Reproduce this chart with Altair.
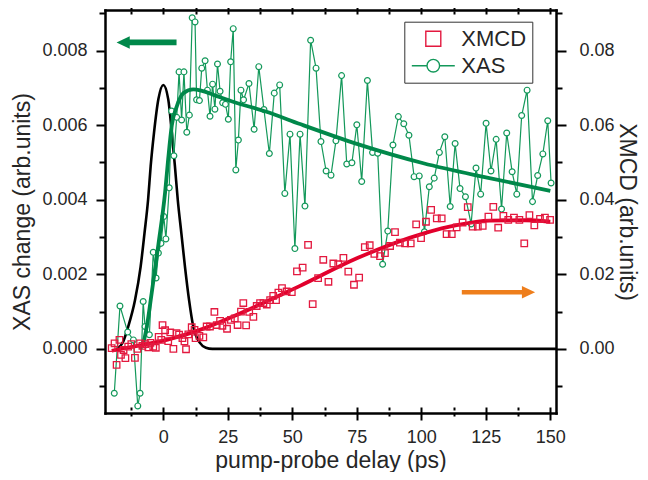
import altair as alt
import pandas as pd

# ---------------- data ----------------
# XAS change (left axis), pump-probe delay in ps
xas_t = [-19.0, -16.8, -13.8, -11.6, -9.9, -9.0, -7.8, -7.1, -5.4, -3.9,
         -2.8, -1.9, -0.9, 0.2, 1.0, 2.3, 3.2, 4.1, 5.2, 6.1,
         7.1, 8.0, 9.1, 10.1, 11.2, 12.3, 12.9, 14.0, 14.9, 16.2,
         17.1, 18.1, 19.1, 20.0, 21.0, 22.0, 23.0, 24.1, 25.2, 26.1,
         27.1, 28.1, 29.1, 30.1, 31.1, 33.2, 35.2, 37.0, 39.0, 41.1,
         43.0, 45.1, 47.1, 49.1, 51.0, 53.0, 54.9, 57.1, 59.2, 61.1,
         63.1, 65.0, 66.9, 69.1, 71.1, 73.1, 75.0, 76.9, 79.1, 81.1,
         83.1, 85.0, 87.0, 89.0, 91.1, 93.2, 95.2, 97.2, 99.2, 101.2,
         103.1, 105.0, 107.0, 109.1, 111.2, 113.1, 115.0, 117.1, 119.3, 121.2,
         123.0, 125.1, 127.0, 129.0, 131.1, 133.1, 135.2, 137.0, 138.9, 141.0,
         143.1, 145.1, 147.1, 149.0, 150.3]
xas_v = [-0.00119, 0.00115, 0.00045, 0.00024, -0.00153, -0.00119, 0.00127, 0.00060, 0.00038, 0.00259,
         0.00190, 0.00257, 0.00283, 0.00355, 0.00295, 0.00432, 0.00638, 0.00518, 0.00621, 0.00743,
         0.00614, 0.00743, 0.00581, 0.00627, 0.00888, 0.00877, 0.00668, 0.00666, 0.00753, 0.00773,
         0.00694, 0.00624, 0.00710, 0.00643, 0.00764, 0.00691, 0.00660, 0.00656, 0.00616, 0.00770,
         0.00859, 0.00480, 0.00560, 0.00694, 0.00668, 0.00712, 0.00589, 0.00757, 0.00642, 0.00524,
         0.00686, 0.00708, 0.00417, 0.00576, 0.00269, 0.00576, 0.00383, 0.00828, 0.00753, 0.00556,
         0.00477, 0.00466, 0.00558, 0.00733, 0.00496, 0.00499, 0.00601, 0.00449, 0.00720, 0.00527,
         0.00525, 0.00227, 0.00316, 0.00547, 0.00623, 0.00604, 0.00573, 0.00462, 0.00464, 0.00314,
         0.00435, 0.00458, 0.00527, 0.00569, 0.00382, 0.00551, 0.00430, 0.00408, 0.00335, 0.00485,
         0.00415, 0.00605, 0.00477, 0.00562, 0.00375, 0.00579, 0.00475, 0.00415, 0.00626, 0.00694,
         0.00395, 0.00465, 0.00523, 0.00612, 0.00445]

# XMCD (right axis)
xmcd_t = [-20.0, -18.9, -18.1, -17.0, -16.4, -15.4, -14.7, -13.6, -12.4, -11.0,
          -10.0, -9.0, -8.1, -7.0, -5.8, -5.0, -3.9, -2.9, -1.8, -0.8,
          -0.3, 0.7, 1.9, 2.7, 3.9, 5.1, 6.1, 7.4, 8.2, 8.8,
          9.7, 11.0, 12.1, 12.5, 14.0, 15.5, 16.8, 18.1, 19.8, 20.7,
          22.0, 22.9, 24.7, 26.2, 27.7, 28.8, 30.1, 31.0, 32.1, 33.3,
          34.9, 36.2, 37.5, 38.8, 40.1, 41.4, 42.6, 43.7, 44.6, 46.0,
          47.8, 49.8, 51.8, 54.0, 56.1, 57.9, 60.0, 62.0, 64.0, 65.9,
          67.8, 69.8, 71.7, 73.9, 75.9, 78.1, 80.0, 81.8, 84.0, 85.9,
          87.9, 89.8, 91.7, 93.7, 95.9, 98.0, 99.9, 101.8, 103.8, 106.0,
          107.9, 109.8, 111.8, 113.7, 116.0, 118.0, 119.9, 121.9, 123.8, 126.0,
          127.9, 129.8, 131.8, 133.7, 135.9, 138.0, 139.9, 141.9, 143.8, 146.0,
          147.9, 149.9]
xmcd_v = [0.0002, 0.0015, -0.0043, 0.0024, -0.0016, -0.0003, -0.0025, 0.0006, 0.0013, -0.0024,
          0.0000, 0.0015, 0.0008, 0.0013, 0.0004, 0.0016, 0.0006, 0.0003, 0.0032, 0.0024,
          0.0064, 0.0050, 0.0021, 0.0044, 0.0000, 0.0042, 0.0038, 0.0029, 0.0020, -0.0001,
          0.0039, 0.0058, 0.0051, 0.0029, 0.0035, 0.0031, 0.0060, 0.0060, 0.0099, 0.0064,
          0.0075, 0.0062, 0.0054, 0.0078, 0.0082, 0.0064, 0.0100, 0.0123, 0.0063, 0.0099,
          0.0086, 0.0115, 0.0123, 0.0123, 0.0119, 0.0131, 0.0142, 0.0131, 0.0151, 0.0163,
          0.0154, 0.0152, 0.0208, 0.0218, 0.0279, 0.0120, 0.0190, 0.0239, 0.0180, 0.0229,
          0.0227, 0.0244, 0.0207, 0.0172, 0.0191, 0.0273, 0.0278, 0.0255, 0.0249, 0.0257,
          0.0276, 0.0313, 0.0285, 0.0283, 0.0283, 0.0334, 0.0297, 0.0341, 0.0373, 0.0350,
          0.0350, 0.0308, 0.0308, 0.0326, 0.0339, 0.0380, 0.0328, 0.0328, 0.0330, 0.0355,
          0.0381, 0.0325, 0.0357, 0.0346, 0.0352, 0.0346, 0.0283, 0.0359, 0.0331, 0.0349,
          0.0352, 0.0346]

# fitted curves
xas_fit_t = [-9.0, -7.8, -6.4, -4.5, -1.9, 0.7, 1.9, 3.3, 5.2, 7.8,
             11.6, 15.0, 20.0, 27.0, 40.0, 53.0, 75.0, 100.8, 125.0, 150.0]
xas_fit_v = [0.0, 0.00015, 0.0006, 0.0015, 0.0028, 0.0042, 0.0051, 0.0060, 0.0065, 0.00686,
             0.00696, 0.00692, 0.0068, 0.00663, 0.00636, 0.00603, 0.0055, 0.00498, 0.0046, 0.00424]
xmcd_fit_t = [-20.0, -11.6, 1.3, 14.2, 27.0, 40.0, 49.0, 53.0, 75.0, 101.0, 113.7, 126.6, 140.0, 150.0]
xmcd_fit_v = [-0.0005, 0.0006, 0.0024, 0.0051, 0.0087, 0.0127, 0.0156, 0.0169, 0.0243, 0.0310,
              0.0332, 0.0344, 0.0345, 0.0341]

# pump pulse (black, left axis)
pulse_t = [-18.0, -15.5, -13.6, -11.0, -8.8, -7.3, -5.9, -4.9, -3.6, -1.9, 0.0,
           1.9, 3.3, 4.5, 5.6, 7.0, 8.4, 10.0, 11.6, 14.2, 16.5, 19.0, 25.0, 152.2]
pulse_v = [0.0, 0.0002, 0.0006, 0.0013, 0.0022, 0.0031, 0.0040, 0.0049, 0.0058, 0.0067, 0.00708,
           0.0067, 0.0058, 0.0049, 0.0040, 0.0031, 0.0022, 0.0013, 0.0006, 0.00016, 0.00003, 0.0, 0.0, 0.0]

legend_series = ["XMCD", "XAS"]

# annotation arrows (data coordinates)
arrow_left_t, arrow_left_v = [-6.5], [0.00822]
arrow_right_t, arrow_right_v = [129.9], [0.0152]

# ---------------- styling ----------------
FONT = "Liberation Sans"
TXT = "#262626"
GREEN = "#13985A"
GREEN_FIT = "#00884A"
RED = "#E3193F"
RED_FIT = "#E2002C"
ORANGE = "#EE7E1C"

XDOM = [-22.6, 152.2]
LDOM = [-0.00172, 0.00909]
RDOM = [-0.0172, 0.0909]
W, H = 451, 403

xticks = [-12.5 + 12.5 * i for i in range(14)]
lticks = [round(0.001 * i, 3) for i in range(-1, 10)]
rticks = [round(0.01 * i, 2) for i in range(-1, 10)]

xscale = alt.Scale(domain=XDOM, nice=False, zero=False)
lscale = alt.Scale(domain=LDOM, nice=False, zero=False)
rscale = alt.Scale(domain=RDOM, nice=False, zero=False)

common = dict(
    grid=False, domainColor="black", domainWidth=2.5, domainCap="square",
    tickColor="black", tickWidth=2, labelFont=FONT, labelFontSize=18,
    labelColor=TXT, titleFont=FONT, titleFontSize=23, titleColor=TXT,
    titleFontWeight="normal", labelFlush=False, labelOverlap=False,
)

xminor = "datum.value % 25 != 0"
ax_bottom = alt.Axis(
    orient="bottom", values=xticks, format="d",
    labelExpr="datum.value % 25 == 0 ? datum.label : ''",
    tickSize={"condition": {"test": xminor, "value": 3}, "value": 7},
    labelPadding=8, title="pump-probe delay (ps)", titleY=54,
    titleBaseline="alphabetic", **common)
ax_bottom_in = alt.Axis(
    orient="bottom", values=xticks, labels=False, domain=False, offset=-6,
    tickSize={"condition": {"test": xminor, "value": 3}, "value": 6},
    title=None, grid=False, tickColor="black", tickWidth=2)
ax_top = alt.Axis(
    orient="top", values=xticks, labels=False,
    tickSize={"condition": {"test": xminor, "value": 3}, "value": 6},
    title=None, **common)
ax_top_in = alt.Axis(
    orient="top", values=xticks, labels=False, domain=False, offset=-4,
    tickSize={"condition": {"test": xminor, "value": 3}, "value": 4},
    title=None, grid=False, tickColor="black", tickWidth=2)

ax_left = alt.Axis(
    orient="left", values=lticks,
    labelExpr="round(datum.value*1000) % 2 == 0 ? format(datum.value, '.3f') : ''",
    tickSize={"condition": {"test": "round(datum.value*1000) % 2 != 0", "value": 6}, "value": 9},
    labelPadding=9, title="XAS change (arb.units)", titleX=-82.5, titleY=H / 2,
    titleBaseline="middle", **common)
ax_right = alt.Axis(
    orient="right", values=rticks,
    labelExpr="round(datum.value*100) % 2 == 0 ? format(datum.value, '.2f') : ''",
    tickSize={"condition": {"test": "round(datum.value*100) % 2 != 0", "value": 6}, "value": 10},
    labelPadding=13, title="XMCD (arb.units)", titleX=70, titleY=H / 2,
    titleBaseline="middle", **common)

xas_df = pd.DataFrame({"t": xas_t, "v": xas_v})
xmcd_df = pd.DataFrame({"t": xmcd_t, "v": xmcd_v})
xas_fit_df = pd.DataFrame({"t": xas_fit_t, "v": xas_fit_v})
xmcd_fit_df = pd.DataFrame({"t": xmcd_fit_t, "v": xmcd_fit_v})
pulse_df = pd.DataFrame({"t": pulse_t, "v": pulse_v})
leg_df = pd.DataFrame({"series": legend_series, "t": [-1000.0, -1000.0], "v": [0.0, 0.0]})
arrL_df = pd.DataFrame({"t": arrow_left_t, "v": arrow_left_v})
arrR_df = pd.DataFrame({"t": arrow_right_t, "v": arrow_right_v})


def xl(axis):
    return alt.X("t:Q", scale=xscale, axis=axis)


def yl(axis):
    return alt.Y("v:Q", scale=lscale, axis=axis)


def yr(axis):
    return alt.Y("v:Q", scale=rscale, axis=axis)


# group C: pump pulse (with inward bottom ticks)
pulse = alt.Chart(pulse_df).mark_line(
    color="black", strokeWidth=2.6, interpolate="monotone"
).encode(x=xl(ax_bottom_in), y=yl(None))

# group A: XAS (left axis)
xas_line = alt.Chart(xas_df).mark_line(color=GREEN, strokeWidth=1.2).encode(
    x=xl(ax_bottom), y=yl(ax_left))
xas_pts = alt.Chart(xas_df).mark_point(
    shape="circle", filled=True, fill="white", stroke=GREEN, strokeWidth=1.2,
    size=34, opacity=1).encode(x=xl(ax_bottom), y=yl(ax_left))
xas_fit = alt.Chart(xas_fit_df).mark_line(
    color=GREEN_FIT, strokeWidth=3.8, interpolate="monotone").encode(
    x=xl(ax_bottom), y=yl(ax_left))
ARROW_L = "M-1,0L-0.56,-0.21L-0.56,-0.095L1,-0.095L1,0.095L-0.56,0.095L-0.56,0.21Z"
arrow_l = alt.Chart(arrL_df).mark_point(
    shape=ARROW_L, filled=True, color=GREEN_FIT, size=3600, opacity=1, strokeWidth=0
).encode(x=xl(ax_bottom), y=yl(ax_left))

SQ_PATH = "M-1.07,-1.07H1.07V1.07H-1.07Z"
XAS_PATH = "M-3.07,0H-0.9A0.9,0.9,0,1,1,0.9,0A0.9,0.9,0,1,1,-0.9,0M0.9,0H3.07"
leg = alt.Legend(
    title=None, orient="none", legendX=299.3, legendY=11.7, padding=6,
    strokeColor="#333333", fillColor="white", labelFont=FONT, labelFontSize=22,
    labelColor=TXT, symbolSize=196, symbolStrokeWidth=1.4, symbolOffset=12,
    labelOffset=17, rowPadding=5)
legend_layer = alt.Chart(leg_df).mark_point(clip=True, filled=False, opacity=1).encode(
    x=xl(ax_bottom), y=yl(ax_left),
    color=alt.Color("series:N", scale=alt.Scale(domain=legend_series, range=[RED, GREEN]), legend=leg),
    shape=alt.Shape("series:N", scale=alt.Scale(domain=legend_series, range=[SQ_PATH, XAS_PATH]), legend=leg),
)

# group B: XMCD (right axis)
xmcd_fit = alt.Chart(xmcd_fit_df).mark_line(
    color=RED_FIT, strokeWidth=3.8, interpolate="monotone").encode(
    x=xl(ax_top), y=yr(ax_right))
xmcd_pts = alt.Chart(xmcd_df).mark_point(
    shape="square", filled=False, color=RED, strokeWidth=1.3, size=42, opacity=1
).encode(x=xl(ax_top), y=yr(ax_right))

# group D: orange arrow (with inward top ticks)
ARROW_R = "M1,0L0.64,-0.17L0.64,-0.06L-1,-0.06L-1,0.06L0.64,0.06L0.64,0.17Z"
arrow_r = alt.Chart(arrR_df).mark_point(
    shape=ARROW_R, filled=True, color=ORANGE, size=5373, opacity=1, strokeWidth=0
).encode(x=xl(ax_top_in), y=yr(None))

groupC = alt.layer(pulse)
groupA = alt.layer(xas_line, xas_pts, xas_fit, arrow_l, legend_layer)
groupB = alt.layer(xmcd_fit, xmcd_pts)
groupD = alt.layer(arrow_r)

chart = alt.layer(groupC, groupA, groupB, groupD).resolve_scale(
    y="independent"
).resolve_axis(
    x="independent", y="independent"
).properties(
    width=W, height=H,
    autosize=alt.AutoSizeParams(type="none"),
    padding={"left": 97, "top": 2, "right": 84, "bottom": 59},
).configure_view(stroke=None)

chart.save("out.html", embed_options={"renderer": "svg", "actions": False})
